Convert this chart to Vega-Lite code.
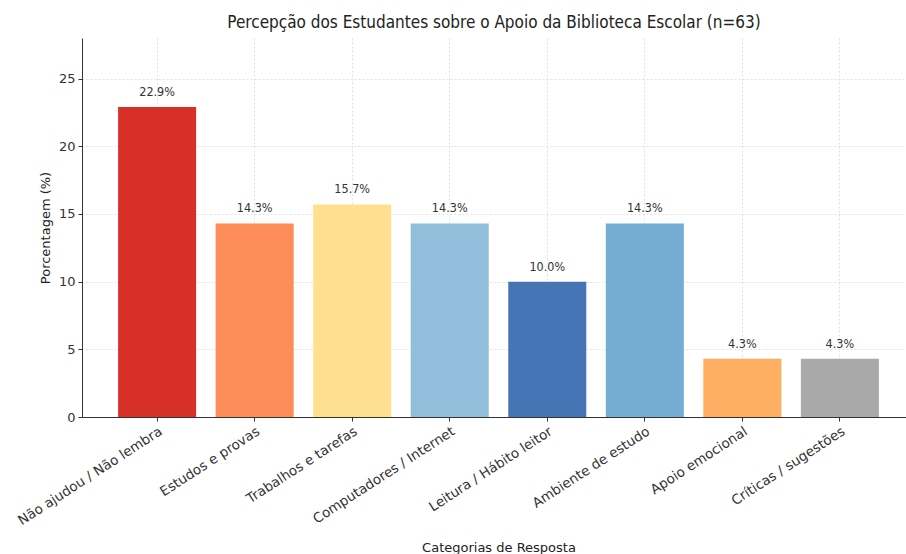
{
  "$schema": "https://vega.github.io/schema/vega-lite/v6.json",
  "autosize": {"type": "none"},
  "width": 824,
  "height": 379,
  "padding": {"left": 82, "top": 38, "right": 0, "bottom": 137},
  "background": "white",
  "config": {
    "font": "'DejaVu Sans'",
    "view": {"stroke": null},
    "axis": {
      "domainColor": "#333333",
      "tickColor": "#333333",
      "labelColor": "#333333",
      "titleColor": "#222222",
      "titleFontWeight": "normal",
      "gridColor": "#d9d9d9",
      "gridDash": [2, 2],
      "gridWidth": 0.8,
      "labelFontSize": 13,
      "titleFontSize": 13,
      "tickSize": 4
    }
  },
  "title": {
    "text": "Percepção dos Estudantes sobre o Apoio da Biblioteca Escolar (n=63)",
    "font": "'DejaVu Sans Condensed', 'DejaVu Sans'",
    "fontSize": 17,
    "fontWeight": "normal",
    "color": "#222222",
    "anchor": "middle",
    "offset": 6
  },
  "data": {
    "values": [
      {"categoria": "Não ajudou / Não lembra", "pct": 22.9, "label": "22.9%"},
      {"categoria": "Estudos e provas", "pct": 14.3, "label": "14.3%"},
      {"categoria": "Trabalhos e tarefas", "pct": 15.7, "label": "15.7%"},
      {"categoria": "Computadores / Internet", "pct": 14.3, "label": "14.3%"},
      {"categoria": "Leitura / Hábito leitor", "pct": 10.0, "label": "10.0%"},
      {"categoria": "Ambiente de estudo", "pct": 14.3, "label": "14.3%"},
      {"categoria": "Apoio emocional", "pct": 4.3, "label": "4.3%"},
      {"categoria": "Críticas / sugestões", "pct": 4.3, "label": "4.3%"}
    ]
  },
  "encoding": {
    "x": {
      "field": "categoria",
      "type": "nominal",
      "sort": null,
      "scale": {"paddingInner": 0.2, "paddingOuter": 0.37, "range": [0, 833]},
      "axis": {
        "title": "Categorias de Resposta",
        "labelAngle": -33,
        "labelAlign": "right",
        "labelBaseline": "top",
        "labelPadding": 3,
        "labelFontSize": 13.5,
        "grid": true,
        "titlePadding": 14
      }
    },
    "y": {
      "field": "pct",
      "type": "quantitative",
      "scale": {"domain": [0, 28], "nice": false},
      "axis": {
        "title": "Porcentagem (%)",
        "values": [0, 5, 10, 15, 20, 25],
        "grid": true,
        "labelPadding": 3,
        "titlePadding": 6
      }
    }
  },
  "layer": [
    {
      "mark": {"type": "bar"},
      "encoding": {
        "color": {
          "field": "categoria",
          "type": "nominal",
          "legend": null,
          "scale": {
            "domain": ["Não ajudou / Não lembra", "Estudos e provas", "Trabalhos e tarefas", "Computadores / Internet", "Leitura / Hábito leitor", "Ambiente de estudo", "Apoio emocional", "Críticas / sugestões"],
            "range": ["#d73027", "#fc8d59", "#fee090", "#91bfdb", "#4575b4", "#74add1", "#fdae61", "#a9a9a9"]
          }
        }
      }
    },
    {
      "mark": {"type": "text", "baseline": "bottom", "dy": -8, "fontSize": 12.5, "font": "'DejaVu Sans Condensed', 'DejaVu Sans'", "color": "#333333"},
      "encoding": {"text": {"field": "label"}}
    }
  ]
}
